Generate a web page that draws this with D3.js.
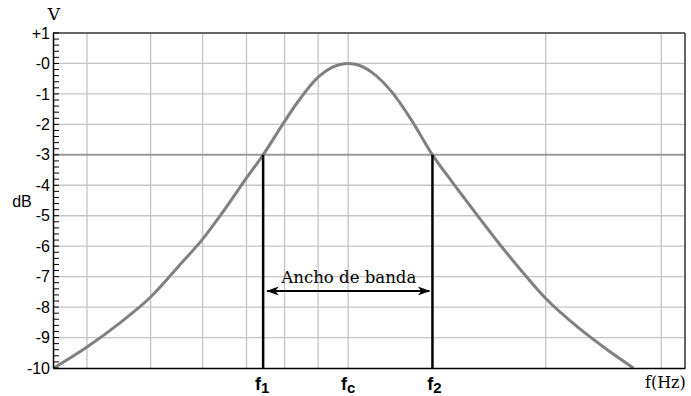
<!DOCTYPE html>
<html>
<head>
<meta charset="utf-8">
<script src="https://cdn.jsdelivr.net/npm/d3@7"></script>
<style>
  html, body { margin: 0; padding: 0; background: #fff; }
  svg { display: block; }
</style>
</head>
<body>
<svg id="chart" width="691" height="396"></svg>
<script>
// Frequency response of a band-pass filter (gain in dB vs frequency, log axis)
const freq = [3.56, 4, 4.47, 5, 5.52, 6, 6.49, 7, 7.42, 8, 8.42, 9, 9.45, 10, 10.39, 10.88, 11.67, 12.52, 13.44, 14.41, 15.85, 17.0, 18.24, 20, 22.5, 25.0, 27.2];
const gainDb = [-10, -9.31, -8.55, -7.67, -6.65, -5.77, -4.78, -3.76, -3.0, -1.9, -1.2, -0.45, -0.13, 0, -0.06, -0.3, -0.95, -1.9, -3.0, -3.9, -5.08, -5.93, -6.73, -7.72, -8.7, -9.45, -10];

// Axis ranges and ticks
const freqDomain = [3.55, 32.6];
const dbDomain = [-10, 1];
const freqGrid = [4, 5, 6, 7, 8, 9, 10, 20, 30];
const dbTicks = [1, 0, -1, -2, -3, -4, -5, -6, -7, -8, -9, -10];
const dbTickLabels = ["+1", "-0", "-1", "-2", "-3", "-4", "-5", "-6", "-7", "-8", "-9", "-10"];
const dbMinorStep = 0.2;

// Cut-off / centre frequencies and the half-power level
const f1 = 7.42, fc = 10, f2 = 13.44;
const cutoffDb = -3;
const bandArrowDb = -7.47;

const serif = "'DejaVu Serif', 'Liberation Serif', serif";
const sans = "'Liberation Sans', Arial, sans-serif";

const svg = d3.select("#chart");
const plot = { left: 53, top: 33, right: 685, bottom: 368 };

const x = d3.scaleLog().domain(freqDomain).range([plot.left, plot.right]);
const y = d3.scaleLinear().domain(dbDomain).range([plot.bottom, plot.top]);

// Grid
svg.append("g").selectAll("line").data(freqGrid).join("line")
  .attr("x1", d => x(d)).attr("x2", d => x(d))
  .attr("y1", plot.top).attr("y2", plot.bottom)
  .attr("stroke", "#c4c4c4").attr("stroke-width", 1.3);

svg.append("g").selectAll("line").data(dbTicks.filter(d => d !== cutoffDb && d !== dbDomain[0] && d !== dbDomain[1])).join("line")
  .attr("x1", plot.left).attr("x2", plot.right)
  .attr("y1", d => y(d)).attr("y2", d => y(d))
  .attr("stroke", "#c4c4c4").attr("stroke-width", 1.3);

// -3 dB reference line
svg.append("line")
  .attr("x1", plot.left).attr("x2", plot.right)
  .attr("y1", y(cutoffDb)).attr("y2", y(cutoffDb))
  .attr("stroke", "#999").attr("stroke-width", 2);

// Frame
svg.append("line").attr("x1", plot.left).attr("x2", plot.right)
  .attr("y1", plot.top).attr("y2", plot.top).attr("stroke", "#333").attr("stroke-width", 1.5);
svg.append("line").attr("x1", plot.right).attr("x2", plot.right)
  .attr("y1", plot.top).attr("y2", plot.bottom).attr("stroke", "#333").attr("stroke-width", 1.5);

// Response curve
const line = d3.line()
  .x((d, i) => x(freq[i]))
  .y(d => y(d))
  .curve(d3.curveMonotoneX);
svg.append("path")
  .attr("d", line(gainDb))
  .attr("fill", "none")
  .attr("stroke", "#808080")
  .attr("stroke-width", 3)
  .attr("stroke-linejoin", "round");

// Cut-off markers
svg.append("g").selectAll("line").data([f1, f2]).join("line")
  .attr("x1", d => x(d)).attr("x2", d => x(d))
  .attr("y1", y(cutoffDb)).attr("y2", plot.bottom)
  .attr("stroke", "#000").attr("stroke-width", 2.5);

// Bandwidth arrow
const defs = svg.append("defs");
defs.append("marker")
  .attr("id", "head")
  .attr("viewBox", "0 0 14 10")
  .attr("refX", 13).attr("refY", 5)
  .attr("markerWidth", 14).attr("markerHeight", 9)
  .attr("markerUnits", "userSpaceOnUse")
  .attr("orient", "auto-start-reverse")
  .append("path").attr("d", "M0,0 L14,5 L0,10 L4,5 Z").attr("fill", "#000");

svg.append("line")
  .attr("x1", x(f1) + 4).attr("x2", x(f2) - 3)
  .attr("y1", y(bandArrowDb)).attr("y2", y(bandArrowDb))
  .attr("stroke", "#000").attr("stroke-width", 2)
  .attr("marker-start", "url(#head)")
  .attr("marker-end", "url(#head)");

svg.append("text")
  .attr("x", (x(f1) + x(f2)) / 2 + 1)
  .attr("y", y(bandArrowDb) - 8)
  .attr("text-anchor", "middle")
  .attr("font-family", serif)
  .attr("font-size", 16)
  .attr("textLength", 135)
  .attr("lengthAdjust", "spacingAndGlyphs")
  .text("Ancho de banda");

// Y axis with minor ticks drawn inward
const yAxis = d3.axisLeft(y)
  .tickValues(dbTicks)
  .tickFormat((d, i) => dbTickLabels[i])
  .tickSize(0)
  .tickPadding(3);
const gy = svg.append("g")
  .attr("transform", `translate(${plot.left},0)`)
  .call(yAxis);
gy.select(".domain").attr("stroke", "#000").attr("stroke-width", 1.5);
gy.selectAll("text")
  .attr("font-family", sans)
  .attr("font-size", 16)
  .attr("fill", "#000");

const minor = d3.range(dbDomain[0], dbDomain[1] + 1e-9, dbMinorStep);
svg.append("g").selectAll("line").data(minor).join("line")
  .attr("x1", plot.left).attr("x2", plot.left + 6)
  .attr("y1", d => y(d)).attr("y2", d => y(d))
  .attr("stroke", "#000").attr("stroke-width", 1);

// Bottom axis line
const xAxis = d3.axisBottom(x).tickValues([]).tickSize(0);
const gx = svg.append("g")
  .attr("transform", `translate(0,${plot.bottom})`)
  .call(xAxis);
gx.select(".domain").attr("stroke", "#000").attr("stroke-width", 1.5);

// Frequency markers
const fLabels = [
  { f: f1, sub: "1", dx: -1 },
  { f: fc, sub: "c", dx: 0 },
  { f: f2, sub: "2", dx: 2 }
];
const fl = svg.append("g").selectAll("text").data(fLabels).join("text")
  .attr("x", d => x(d.f) + d.dx)
  .attr("y", 390)
  .attr("text-anchor", "middle")
  .attr("font-family", sans)
  .attr("font-weight", "bold")
  .attr("font-size", 18)
  .attr("fill", "#000");
fl.append("tspan").text("f");
fl.append("tspan").attr("dy", 3).attr("font-size", 15).text(d => d.sub);

// Axis titles
svg.append("text")
  .attr("x", 54).attr("y", 20)
  .attr("text-anchor", "middle")
  .attr("font-family", serif)
  .attr("font-size", 17)
  .text("V");

svg.append("text")
  .attr("x", 22).attr("y", 207)
  .attr("text-anchor", "middle")
  .attr("font-family", sans)
  .attr("font-size", 16)
  .text("dB");

svg.append("text")
  .attr("x", 645).attr("y", 388)
  .attr("font-family", serif)
  .attr("font-size", 16)
  .text("f(Hz)");
</script>
</body>
</html>
